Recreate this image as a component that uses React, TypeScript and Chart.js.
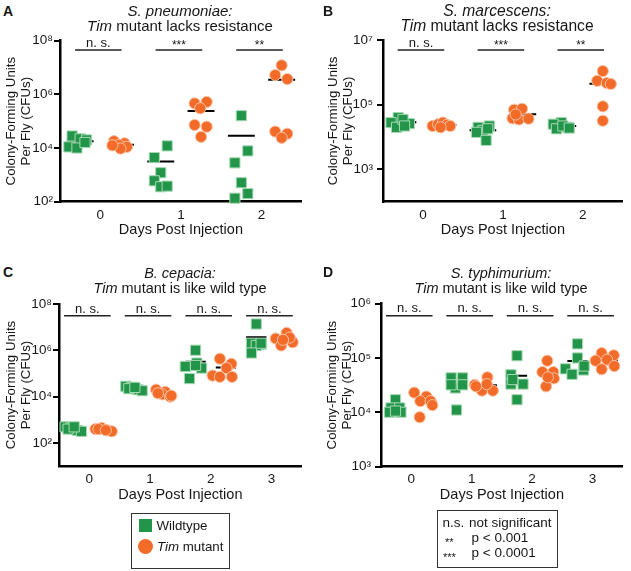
import React, { useEffect, useRef } from "react";
import { Chart, registerables } from "chart.js";
Chart.register(...registerables);

const FONT = "Arial, 'Liberation Sans', Helvetica, sans-serif";
const GREEN = "#23954a";
const GREEN_EDGE = "#a6dab3";
const ORANGE = "#f26b29";
const ORANGE_EDGE = "#f9c2a3";
const INK = "#161616";

// ---------- Panel A: S. pneumoniae ----------
const A_DAYS = [0, 1, 2];
const A_WT = [
  [28000, 22000, 20000, 11000, 10000, 16000],
  [12000, 4400, 1200, 600, 360, 380],
  [160000, 7800, 2800, 510, 200, 135],
];
const A_MUT = [
  [18000, 15000, 13000, 11000, 9500, 12500],
  [460000, 520000, 300000, 72000, 62000, 26000],
  [12000000, 5200000, 3700000, 41000, 34000, 24000],
];
const A_WT_JIT = [
  [-0.1, 0, 0.08, -0.14, -0.04, 0.06],
  [0.08, -0.08, 0, -0.08, 0, 0.08],
  [0, 0.08, -0.08, 0, 0.08, -0.08],
];
const A_MUT_JIT = [
  [-0.08, 0.05, -0.02, 0.08, 0, -0.1],
  [-0.08, 0.07, -0.01, -0.08, 0.07, 0],
  [0, -0.08, 0.07, -0.08, 0.07, 0],
];
const A_SIG = ["n. s.", "***", "**"];
const A_YTICKS = [1e2, 1e4, 1e6, 1e8];

// ---------- Panel B: S. marcescens ----------
const B_DAYS = [0, 1, 2];
const B_WT = [
  [40000, 28000, 26000, 20000, 35000, 22000],
  [22000, 20000, 16000, 14000, 7900, 18000],
  [28000, 25000, 20000, 18000, 22000, 19000],
];
const B_MUT = [
  [22000, 25000, 28000, 24000, 22000, 20000],
  [70000, 75000, 38000, 35000, 37000, 50000],
  [1100000, 550000, 470000, 440000, 89000, 32000],
];
const B_WT_JIT = [
  [-0.06, -0.15, 0.08, -0.08, 0.0, 0.02],
  [0.08, -0.06, 0.0, -0.08, 0.04, 0.06],
  [-0.02, -0.12, 0.06, -0.08, 0.0, 0.08],
];
const B_MUT_JIT = [
  [-0.13, -0.06, 0.0, 0.05, 0.09, -0.03],
  [-0.11, -0.01, -0.13, -0.05, 0.07, -0.09],
  [0, -0.07, 0.05, 0.1, 0, 0],
];
const B_SIG = ["n. s.", "***", "**"];
const B_YTICKS = [1e3, 1e5, 1e7];

// ---------- Panel C: B. cepacia ----------
const C_DAYS = [0, 1, 2, 3];
const C_WT = [
  [500, 450, 350, 320, 400, 500],
  [28000, 25000, 20000, 18000, 22000, 25000],
  [1000000, 200000, 280000, 170000, 60000, 220000],
  [13500000, 2000000, 1800000, 1600000, 760000, 2000000],
];
const C_MUT = [
  [400, 450, 350, 320, 400, 360],
  [20000, 16000, 12600, 10000, 11000, 14000],
  [430000, 260000, 170000, 81000, 71000, 71000],
  [5600000, 3200000, 2200000, 1600000, 3500000, 2800000],
];
const C_WT_JIT = [
  [-0.15, -0.05, 0.05, 0.12, -0.1, 0.0],
  [-0.15, -0.05, 0.05, 0.12, -0.1, 0.0],
  [0, -0.17, 0.02, 0.1, -0.1, 0.0],
  [0, -0.08, 0.08, 0, -0.08, 0.08],
];
const C_MUT_JIT = [
  [-0.15, -0.05, 0.05, 0.12, -0.1, 0.02],
  [-0.15, 0.0, -0.05, 0.08, 0.1, -0.12],
  [-0.1, 0.09, 0.01, -0.22, -0.1, 0.1],
  [0, -0.18, 0.1, -0.09, 0.05, -0.06],
];
const C_SIG = ["n. s.", "n. s.", "n. s.", "n. s."];
const C_YTICKS = [1e2, 1e4, 1e6, 1e8];

// ---------- Panel D: S. typhimurium ----------
const D_DAYS = [0, 1, 2, 3];
const D_WT = [
  [17000, 12000, 12000, 10000, 10000, 10500],
  [43000, 43000, 28000, 32000, 32000, 11000],
  [110000, 49000, 33000, 33000, 17000, 40000],
  [182000, 100000, 63000, 60000, 50000, 71000],
];
const D_MUT = [
  [23000, 19500, 16000, 16000, 13500, 8100],
  [32000, 44000, 25000, 25000, 33000, 30000],
  [89000, 55000, 55000, 42000, 30000, 44000],
  [123000, 112000, 89000, 93000, 62000, 71000],
];
const D_WT_JIT = [
  [-0.01, -0.085, 0.06, -0.11, 0.08, -0.01],
  [-0.09, 0.1, -0.02, -0.09, 0.1, 0],
  [0, -0.1, -0.1, 0.1, 0, -0.07],
  [0, 0, -0.2, 0.1, -0.09, 0.11],
];
const D_MUT_JIT = [
  [-0.2, 0, -0.1, 0.07, 0.1, -0.11],
  [-0.2, 0.01, -0.08, 0.1, 0, -0.18],
  [0, -0.08, 0.1, 0.11, -0.02, 0.01],
  [-0.1, 0.1, -0.2, -0.01, -0.1, 0.11],
];
const D_SIG = ["n. s.", "n. s.", "n. s.", "n. s."];
const D_YTICKS = [1e3, 1e4, 1e5, 1e6];

const GROUP_OFF = 0.25;
const MEAN_HALF = 0.167;
const SUP: Record<string, string> = {
  "0": "⁰", "1": "¹", "2": "²", "3": "³", "4": "⁴",
  "5": "⁵", "6": "⁶", "7": "⁷", "8": "⁸", "9": "⁹",
};
const fmtPow = (v: number) =>
  "10" + String(Math.round(Math.log10(v))).split("").map((c) => SUP[c]).join("");
const mean = (a: number[]) => a.reduce((s, v) => s + v, 0) / a.length;

type Spec = {
  days: number[]; wt: number[][]; mut: number[][]; wtJit: number[][]; mutJit: number[][];
  sig: string[]; yMin: number; yMax: number; yTicks: number[];
  box: { left: number; top: number; width: number; height: number };
  area: { l: number; t: number; r: number; b: number };
  yTitleX: number; xTitleY: number; tickPad: number; sigDy: number;
};

const SPECS: Spec[] = [
  {
    days: A_DAYS, wt: A_WT, mut: A_MUT, wtJit: A_WT_JIT, mutJit: A_MUT_JIT, sig: A_SIG,
    yMin: 1e2, yMax: 1e8, yTicks: A_YTICKS,
    box: { left: 0, top: 28, width: 310, height: 225 },
    area: { l: 60, t: 40.6, r: 305, b: 201.7 },
    yTitleX: 11.5, xTitleY: 230, tickPad: 1, sigDy: 9.5,
  },
  {
    days: B_DAYS, wt: B_WT, mut: B_MUT, wtJit: B_WT_JIT, mutJit: B_MUT_JIT, sig: B_SIG,
    yMin: 1e2, yMax: 1e7, yTicks: B_YTICKS,
    box: { left: 310, top: 28, width: 321, height: 225 },
    area: { l: 383, t: 40, r: 627, b: 201.7 },
    yTitleX: 333, xTitleY: 230, tickPad: 4, sigDy: 10,
  },
  {
    days: C_DAYS, wt: C_WT, mut: C_MUT, wtJit: C_WT_JIT, mutJit: C_MUT_JIT, sig: C_SIG,
    yMin: 1e1, yMax: 1e8, yTicks: C_YTICKS,
    box: { left: 0, top: 290, width: 310, height: 225 },
    area: { l: 59, t: 303.8, r: 304.3, b: 466.3 },
    yTitleX: 11, xTitleY: 495, tickPad: 1, sigDy: 12,
  },
  {
    days: D_DAYS, wt: D_WT, mut: D_MUT, wtJit: D_WT_JIT, mutJit: D_MUT_JIT, sig: D_SIG,
    yMin: 1e3, yMax: 1e6, yTicks: D_YTICKS,
    box: { left: 310, top: 290, width: 321, height: 225 },
    area: { l: 381, t: 303.7, r: 625.3, b: 466.5 },
    yTitleX: 332, xTitleY: 495, tickPad: 4, sigDy: 12,
  },
];

function Panel({ spec }: { spec: Spec }) {
  const ref = useRef<HTMLCanvasElement>(null);
  useEffect(() => {
    const s = spec;
    const { box, area } = s;
    const padTop = area.t - box.top;
    const padRight = box.left + box.width - area.r;
    const yW = area.l - box.left;
    const xH = box.top + box.height - area.b;
    const xTitleLH = 17.4;
    const pts = (vals: number[][], jit: number[][], off: number) =>
      vals.flatMap((g, d) => g.map((v, i) => ({ x: s.days[d] + off + jit[d][i], y: v })));
    const meanData: any[] = [];
    s.days.forEach((d, i) => {
      const groups: [number[], number][] = [[s.wt[i], -GROUP_OFF], [s.mut[i], GROUP_OFF]];
      for (const [vals, off] of groups) {
        const m = mean(vals);
        meanData.push({ x: d + off - MEAN_HALF, y: m }, { x: d + off + MEAN_HALF, y: m }, { x: d + off, y: null });
      }
    });
    const sigPlugin = {
      id: "sigbars",
      afterDatasetsDraw(chart: any) {
        const ctx = chart.ctx;
        const xs = chart.scales.x;
        const top = chart.chartArea.top;
        ctx.save();
        ctx.strokeStyle = "#222";
        ctx.fillStyle = INK;
        ctx.lineWidth = 1.5;
        ctx.textAlign = "center";
        ctx.textBaseline = "alphabetic";
        s.days.forEach((d, i) => {
          const cx = xs.getPixelForValue(d) - 2;
          const y = top + s.sigDy;
          ctx.beginPath();
          ctx.moveTo(cx - 23.3, y);
          ctx.lineTo(cx + 23.3, y);
          ctx.stroke();
          const lab = s.sig[i];
          if (lab.includes("*")) {
            ctx.font = `12px ${FONT}`;
            ctx.fillText(lab, cx, y - 1);
          } else {
            ctx.font = `13px ${FONT}`;
            ctx.fillText(lab, cx, y - 3.3);
          }
        });
        ctx.restore();
      },
    };
    const chart = new Chart(ref.current!, {
      type: "scatter",
      data: {
        datasets: [
          {
            data: pts(s.wt, s.wtJit, -GROUP_OFF), pointStyle: "rect", pointRadius: 7.2,
            backgroundColor: GREEN, borderColor: GREEN_EDGE, borderWidth: 1, order: 0, clip: false,
          } as any,
          {
            data: pts(s.mut, s.mutJit, GROUP_OFF), pointStyle: "circle", pointRadius: 5.6,
            backgroundColor: ORANGE, borderColor: ORANGE_EDGE, borderWidth: 1, order: 0, clip: false,
          } as any,
          {
            type: "line", data: meanData, borderColor: "#000", borderWidth: 2,
            pointRadius: 0, spanGaps: false, fill: false, order: 1, clip: false,
          } as any,
        ],
      },
      options: {
        animation: false,
        responsive: false,
        events: [],
        layout: { padding: { left: 0, top: padTop, right: padRight, bottom: 0 } },
        plugins: { legend: { display: false }, tooltip: { enabled: false } },
        scales: {
          x: {
            type: "linear",
            min: -0.5,
            max: s.days.length - 0.5,
            afterBuildTicks: (sc: any) => { sc.ticks = s.days.map((d) => ({ value: d })); },
            afterFit: (sc: any) => { sc.height = xH; },
            ticks: {
              font: { family: FONT, size: 13.5 }, color: INK, padding: 5,
              callback: (v: any) => String(v),
            },
            grid: { display: false, drawTicks: false },
            border: { display: true, color: "#000", width: 2.5 },
            title: {
              display: true, text: "Days Post Injection", color: INK,
              font: { family: FONT, size: 14.5 },
              padding: { top: 0, bottom: box.top + box.height - s.xTitleY - xTitleLH / 2 },
            },
          },
          y: {
            type: "logarithmic",
            min: s.yMin,
            max: s.yMax,
            afterBuildTicks: (sc: any) => { sc.ticks = s.yTicks.map((v) => ({ value: v })); },
            afterFit: (sc: any) => { sc.width = yW; },
            ticks: {
              font: { family: FONT, size: 13.5 }, color: INK, padding: s.tickPad,
              callback: (v: any) => fmtPow(Number(v)),
            },
            grid: {
              display: true, drawOnChartArea: false, drawTicks: true,
              tickLength: 6, color: "#000", lineWidth: 2,
            },
            border: { display: true, color: "#000", width: 2.5 },
            title: {
              display: true, text: ["Colony-Forming Units", "Per Fly (CFUs)"], color: INK,
              font: { family: FONT, size: 13.3, lineHeight: "15px" } as any,
              padding: { top: s.yTitleX - box.left - 7.5, bottom: 0 },
            },
          },
        },
      } as any,
      plugins: [sigPlugin],
    });
    return () => chart.destroy();
  }, [spec]);
  const { box } = spec;
  return (
    <div style={{ position: "absolute", left: box.left, top: box.top, width: box.width, height: box.height }}>
      <canvas ref={ref} width={box.width} height={box.height} style={{ width: box.width, height: box.height, display: "block" }} />
    </div>
  );
}

const HEADINGS = [
  { letter: "A", lx: 3, ly: 4, species: "S. pneumoniae:", rest: " mutant lacks resistance", cx: 180, y1: 10, size: 15 },
  { letter: "B", lx: 323, ly: 4, species: "S. marcescens:", rest: " mutant lacks resistance", cx: 497, y1: 10.5, size: 15.6 },
  { letter: "C", lx: 3, ly: 265, species: "B. cepacia:", rest: " mutant is like wild type", cx: 180, y1: 273.5, size: 14.5 },
  { letter: "D", lx: 323, ly: 265, species: "S. typhimurium:", rest: " mutant is like wild type", cx: 501, y1: 273.5, size: 14.5 },
];

const abs = (o: React.CSSProperties): React.CSSProperties => ({ position: "absolute", whiteSpace: "nowrap", ...o });

export default function App() {
  return (
    <div style={{ position: "absolute", left: 0, top: 0, width: 631, height: 571, background: "#fff", overflow: "hidden", fontFamily: FONT, color: INK }}>
      {SPECS.map((s, i) => <Panel key={i} spec={s} />)}
      {HEADINGS.map((h) => (
        <React.Fragment key={h.letter}>
          <div style={abs({ left: h.lx, top: h.ly, fontSize: 14, fontWeight: "bold", lineHeight: "15px" })}>{h.letter}</div>
          <div style={abs({ left: h.cx - 150, width: 300, top: h.y1 - 7.5, textAlign: "center", fontSize: h.size, lineHeight: "15px" })}>
            <div><i>{h.species}</i></div>
            <div><i>Tim</i>{h.rest}</div>
          </div>
        </React.Fragment>
      ))}
      {/* legend: genotypes */}
      <div style={abs({ left: 131, top: 513, width: 99, height: 56, border: "1.5px solid #333", boxSizing: "border-box" })} />
      <div style={abs({ left: 139.3, top: 519.3, width: 12.5, height: 13, background: GREEN })} />
      <div style={abs({ left: 137.7, top: 538.7, width: 15, height: 15, borderRadius: "50%", background: ORANGE })} />
      <div style={abs({ left: 156.5, top: 518.4, fontSize: 13.3, lineHeight: "15px" })}>Wildtype</div>
      <div style={abs({ left: 157, top: 538.6, fontSize: 13.3, lineHeight: "15px" })}><i>Tim</i> mutant</div>
      {/* legend: significance */}
      <div style={abs({ left: 437.3, top: 510, width: 121, height: 58.3, border: "1.5px solid #333", boxSizing: "border-box" })} />
      <div style={abs({ left: 442.5, top: 515, fontSize: 13.5, lineHeight: "15px" })}>n.s.</div>
      <div style={abs({ left: 469, top: 515, fontSize: 13.5, lineHeight: "15px" })}>not significant</div>
      <div style={abs({ left: 439.3, width: 20, top: 534.5, textAlign: "center", fontSize: 11, lineHeight: "15px" })}>**</div>
      <div style={abs({ left: 471.5, top: 530, fontSize: 13.5, lineHeight: "15px" })}>p &lt; 0.001</div>
      <div style={abs({ left: 439.3, width: 20, top: 549.5, textAlign: "center", fontSize: 11, lineHeight: "15px" })}>***</div>
      <div style={abs({ left: 471.5, top: 545, fontSize: 13.5, lineHeight: "15px" })}>p &lt; 0.0001</div>
    </div>
  );
}
